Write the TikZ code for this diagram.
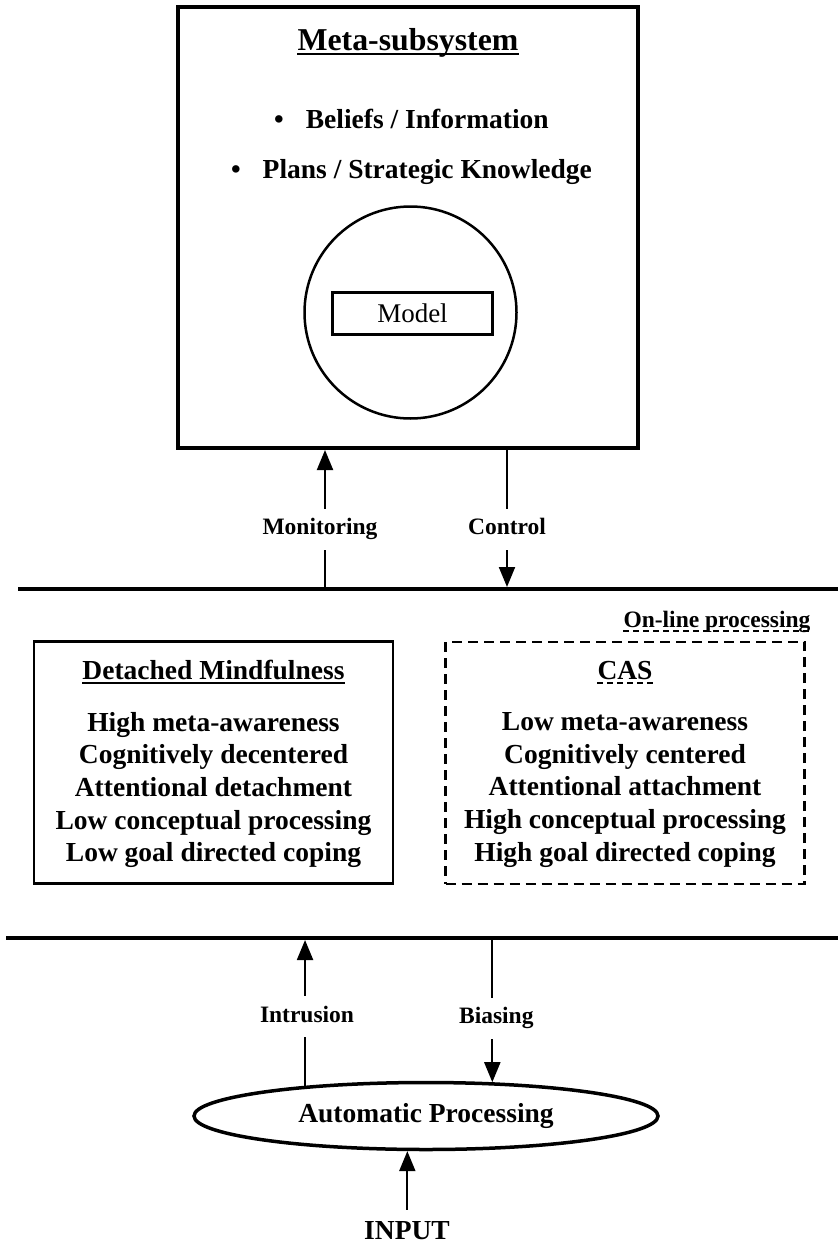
\documentclass[tikz,border=0pt]{standalone}
\usepackage{fontspec}
\setmainfont{Liberation Serif}
\usetikzlibrary{positioning,arrows.meta,shapes.geometric}
\tikzset{
  frame/.style={draw, line width=4pt, minimum width=460pt, minimum height=441pt},
  panel/.style={draw, line width=2.5pt, minimum width=359pt, minimum height=242pt},
  caspanel/.style={panel, dash pattern=on 10pt off 6pt},
  divider/.style={line width=4pt},
  flow/.style={-{Triangle[width=16pt,length=20pt]}, line width=2pt},
  titletxt/.style={font=\fontsize{27.5}{32}\selectfont\bfseries, inner sep=0pt, anchor=base},
  headtxt/.style={titletxt, font=\fontsize{31.8}{36}\selectfont\bfseries},
  bodytxt/.style={font=\fontsize{27.5}{32.7}\selectfont\bfseries, align=center},
  flowlbl/.style={font=\fontsize{23.5}{28}\selectfont\bfseries, fill=white,
                  text height=16pt, text depth=5pt, inner xsep=2pt, inner ysep=10pt},
  uline/.style={line width=2pt},
  dline/.style={line width=2pt, dash pattern=on 6pt off 4pt}
}

\begin{document}
\begin{tikzpicture}[x=1pt, y=-1pt]
  \useasboundingbox (0,0) rectangle (838,1247);
  % meta level
  \node[frame] (meta) at (408,227.5) {};
  \node[headtxt] (metatitle) at (408,50.5) {Meta-subsystem};
  \draw[uline] ([yshift=-4pt]metatitle.base west) -- ([yshift=-4pt]metatitle.base east);
  \node[bodytxt, anchor=base] (beliefs) at (411.5,128.5) {\textbullet\hspace{22pt}Beliefs / Information};
  \node[bodytxt, anchor=base] (plans) at (411.5,178.5) {\textbullet\hspace{22pt}Plans / Strategic Knowledge};
  \node[circle, draw, line width=2.5pt, minimum size=212pt] (mind) at (410.5,312.5) {};
  \node[draw, line width=2.5pt, minimum width=160pt, minimum height=42pt,
        font=\fontsize{27}{32}\selectfont] (model) at (412.5,313.5) {Model};

  % object level
  \coordinate (on-w) at (18,589);
  \coordinate (on-e) at (838,589);
  \draw[divider] (on-w) -- (on-e);
  \coordinate (mon) at (325,587);
  \coordinate (ctl) at (507,587);
  \draw[flow] (mon) -- (mon |- meta.south) node[flowlbl, pos=0.42, xshift=-5pt] {Monitoring};
  \draw[flow] (ctl |- meta.south) -- (ctl) node[flowlbl, pos=0.58] {Control};

  \node[titletxt, font=\fontsize{23.5}{28}\selectfont\bfseries] (online) at (717,627) {On-line processing};
  \draw[dline] ([yshift=-4pt]online.base west) -- ([yshift=-4pt]online.base east);

  \node[panel] (dm) at (213.5,762.5) {};
  \node[titletxt] (dmtitle) at (213.5,679) {Detached Mindfulness};
  \draw[uline] ([yshift=-3.5pt]dmtitle.base west) -- ([yshift=-3.5pt]dmtitle.base east);
  \node[bodytxt] (dmbody) at (213.5,790) {High meta-awareness\\Cognitively decentered\\
    Attentional detachment\\Low conceptual processing\\Low goal directed coping};

  \node[caspanel] (cas) at (625,763) {};
  \node[titletxt] (castitle) at (625,679) {CAS};
  \draw[dline] ([yshift=-3.5pt]castitle.base west) -- ([yshift=-3.5pt]castitle.base east);
  \node[bodytxt] (casbody) at (castitle |- dmbody) {Low meta-awareness\\Cognitively centered\\
    Attentional attachment\\High conceptual processing\\High goal directed coping};

  % automatic level
  \coordinate (auto-w) at (6,938);
  \coordinate (auto-e) at (838,938);
  \draw[divider] (auto-w) -- (auto-e);
  \node[ellipse, draw, line width=3.5pt, minimum width=464pt, minimum height=67pt,
        inner sep=0pt, bodytxt] (auto) at (426,1116) {Automatic Processing};
  \coordinate (intr) at (auto.166.6);
  \coordinate (bias) at (auto.27.1);
  \coordinate (inp) at (auto.242.9);
  \draw[flow, shorten >=2pt] (intr) -- (intr |- auto-w) node[flowlbl, pos=0.466, xshift=2pt] {Intrusion};
  \draw[flow] (bias |- auto-w) -- (bias) node[flowlbl, pos=0.556, xshift=4pt] {Biasing};
  \node[bodytxt, inner sep=0pt] (input) at (407,1231) {INPUT};
  \draw[flow, shorten <=12pt] (input.north -| inp) -- (inp);
\end{tikzpicture}
\end{document}
